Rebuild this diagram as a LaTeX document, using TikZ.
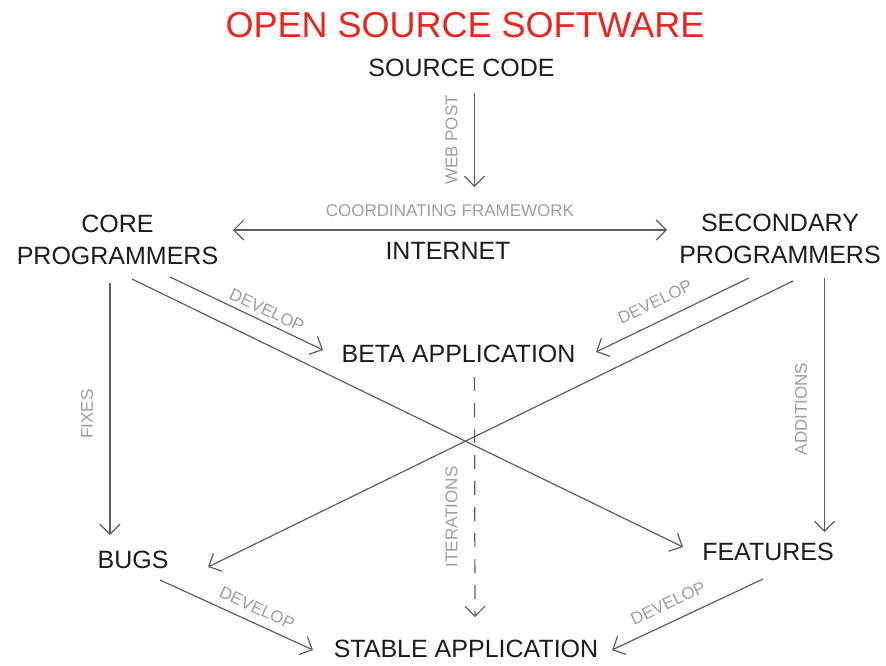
\documentclass[tikz,border=0pt]{standalone}
\usepackage{fontspec}
\setmainfont{Liberation Sans}
\usetikzlibrary{arrows.meta,calc}
\definecolor{titlered}{HTML}{E8261F}
\definecolor{labelgray}{HTML}{A09F97}
\definecolor{linegray}{HTML}{5E5E5E}
\definecolor{textblack}{HTML}{1C1C1C}
\tikzset{
  maintext/.style={inner sep=0pt, text=textblack, font=\fontsize{25}{32}\selectfont, align=center},
  titletext/.style={inner sep=0pt, text=titlered, font=\fontsize{36}{40}\selectfont},
  lbl/.style={inner sep=0pt, text=labelgray, font=\fontsize{17}{20}\selectfont},
  arr/.style={draw=linegray, line width=1.2pt, -{Straight Barb[length=10pt,width=20pt,line width=1.2pt]}},
  dblarr/.style={draw=linegray, line width=1.2pt, {Straight Barb[length=10pt,width=20pt,line width=1.2pt]}-{Straight Barb[length=10pt,width=20pt,line width=1.2pt]}},
  dasharr/.style={arr, dash pattern=on 14pt off 12pt}
}
\begin{document}
\begin{tikzpicture}[x=1pt,y=-1pt]
\useasboundingbox (0,0) rectangle (886,665);
% nodes
\node[titletext] (title) at (465,25.5) {OPEN SOURCE SOFTWARE};
\node[maintext] (source) at (461.5,68) {SOURCE CODE};
\node[maintext] (core) at (117.5,240) {CORE\\PROGRAMMERS};
\node[maintext] (secondary) at (780,239) {SECONDARY\\PROGRAMMERS};
\node[maintext] (internet) at (448,251) {INTERNET};
\node[lbl] (coordfw) at (450,211) {COORDINATING FRAMEWORK};
\node[maintext] (beta) at (458.5,353.5) {BETA APPLICATION};
\node[maintext] (bugs) at (133,560) {BUGS};
\node[maintext] (features) at (768,551.5) {FEATURES};
\node[maintext] (stable) at (466,649) {STABLE APPLICATION};
% connectors
\coordinate (webend) at ($(coordfw)+(24.5,-24)$);
\draw[arr] ($(source)+(13,25)$) -- (webend);
\draw[dblarr] ($(core)+(115.5,-10)$) -- ($(secondary)+(-113,-9)$);
\draw[arr] ($(core)+(52.5,37)$) -- ($(beta)+(-135.5,-3.5)$);
\draw[arr] ($(core)+(14.5,39)$) -- ($(features)+(-85,-4.5)$);
\draw[arr] ($(core)+(-7.5,43)$) -- ($(bugs)+(-23,-25)$);
\draw[arr] ($(secondary)+(-31,39)$) -- ($(beta)+(137.5,-1.5)$);
\draw[arr] ($(secondary)+(13,42)$) -- ($(bugs)+(75,7)$);
\draw[arr] ($(secondary)+(44.5,39)$) -- ($(features)+(56.5,-19.5)$);
\draw[dasharr] ($(beta)+(16,23.5)$) -- ($(stable)+(9,-32)$);
\draw[arr] ($(bugs)+(27,20)$) -- ($(stable)+(-153,1)$);
\draw[arr] ($(features)+(-5,27.5)$) -- ($(stable)+(146,1)$);
% labels
\node[lbl, rotate=90] (lweb) at (451.5,140) {WEB POST};
\node[lbl, rotate=90] (lfix) at (87,414) {FIXES};
\node[lbl, rotate=90] (ladd) at (801,409) {ADDITIONS};
\node[lbl, rotate=90] (liter) at (451.5,517) {ITERATIONS};
\node[lbl, rotate=-25.5] (ldev1) at (267,310) {DEVELOP};
\node[lbl, rotate=25.8] (ldev2) at (655,302) {DEVELOP};
\node[lbl, rotate=-24.6] (ldev3) at (257,608) {DEVELOP};
\node[lbl, rotate=25.2] (ldev4) at (668,603) {DEVELOP};
\end{tikzpicture}
\end{document}
